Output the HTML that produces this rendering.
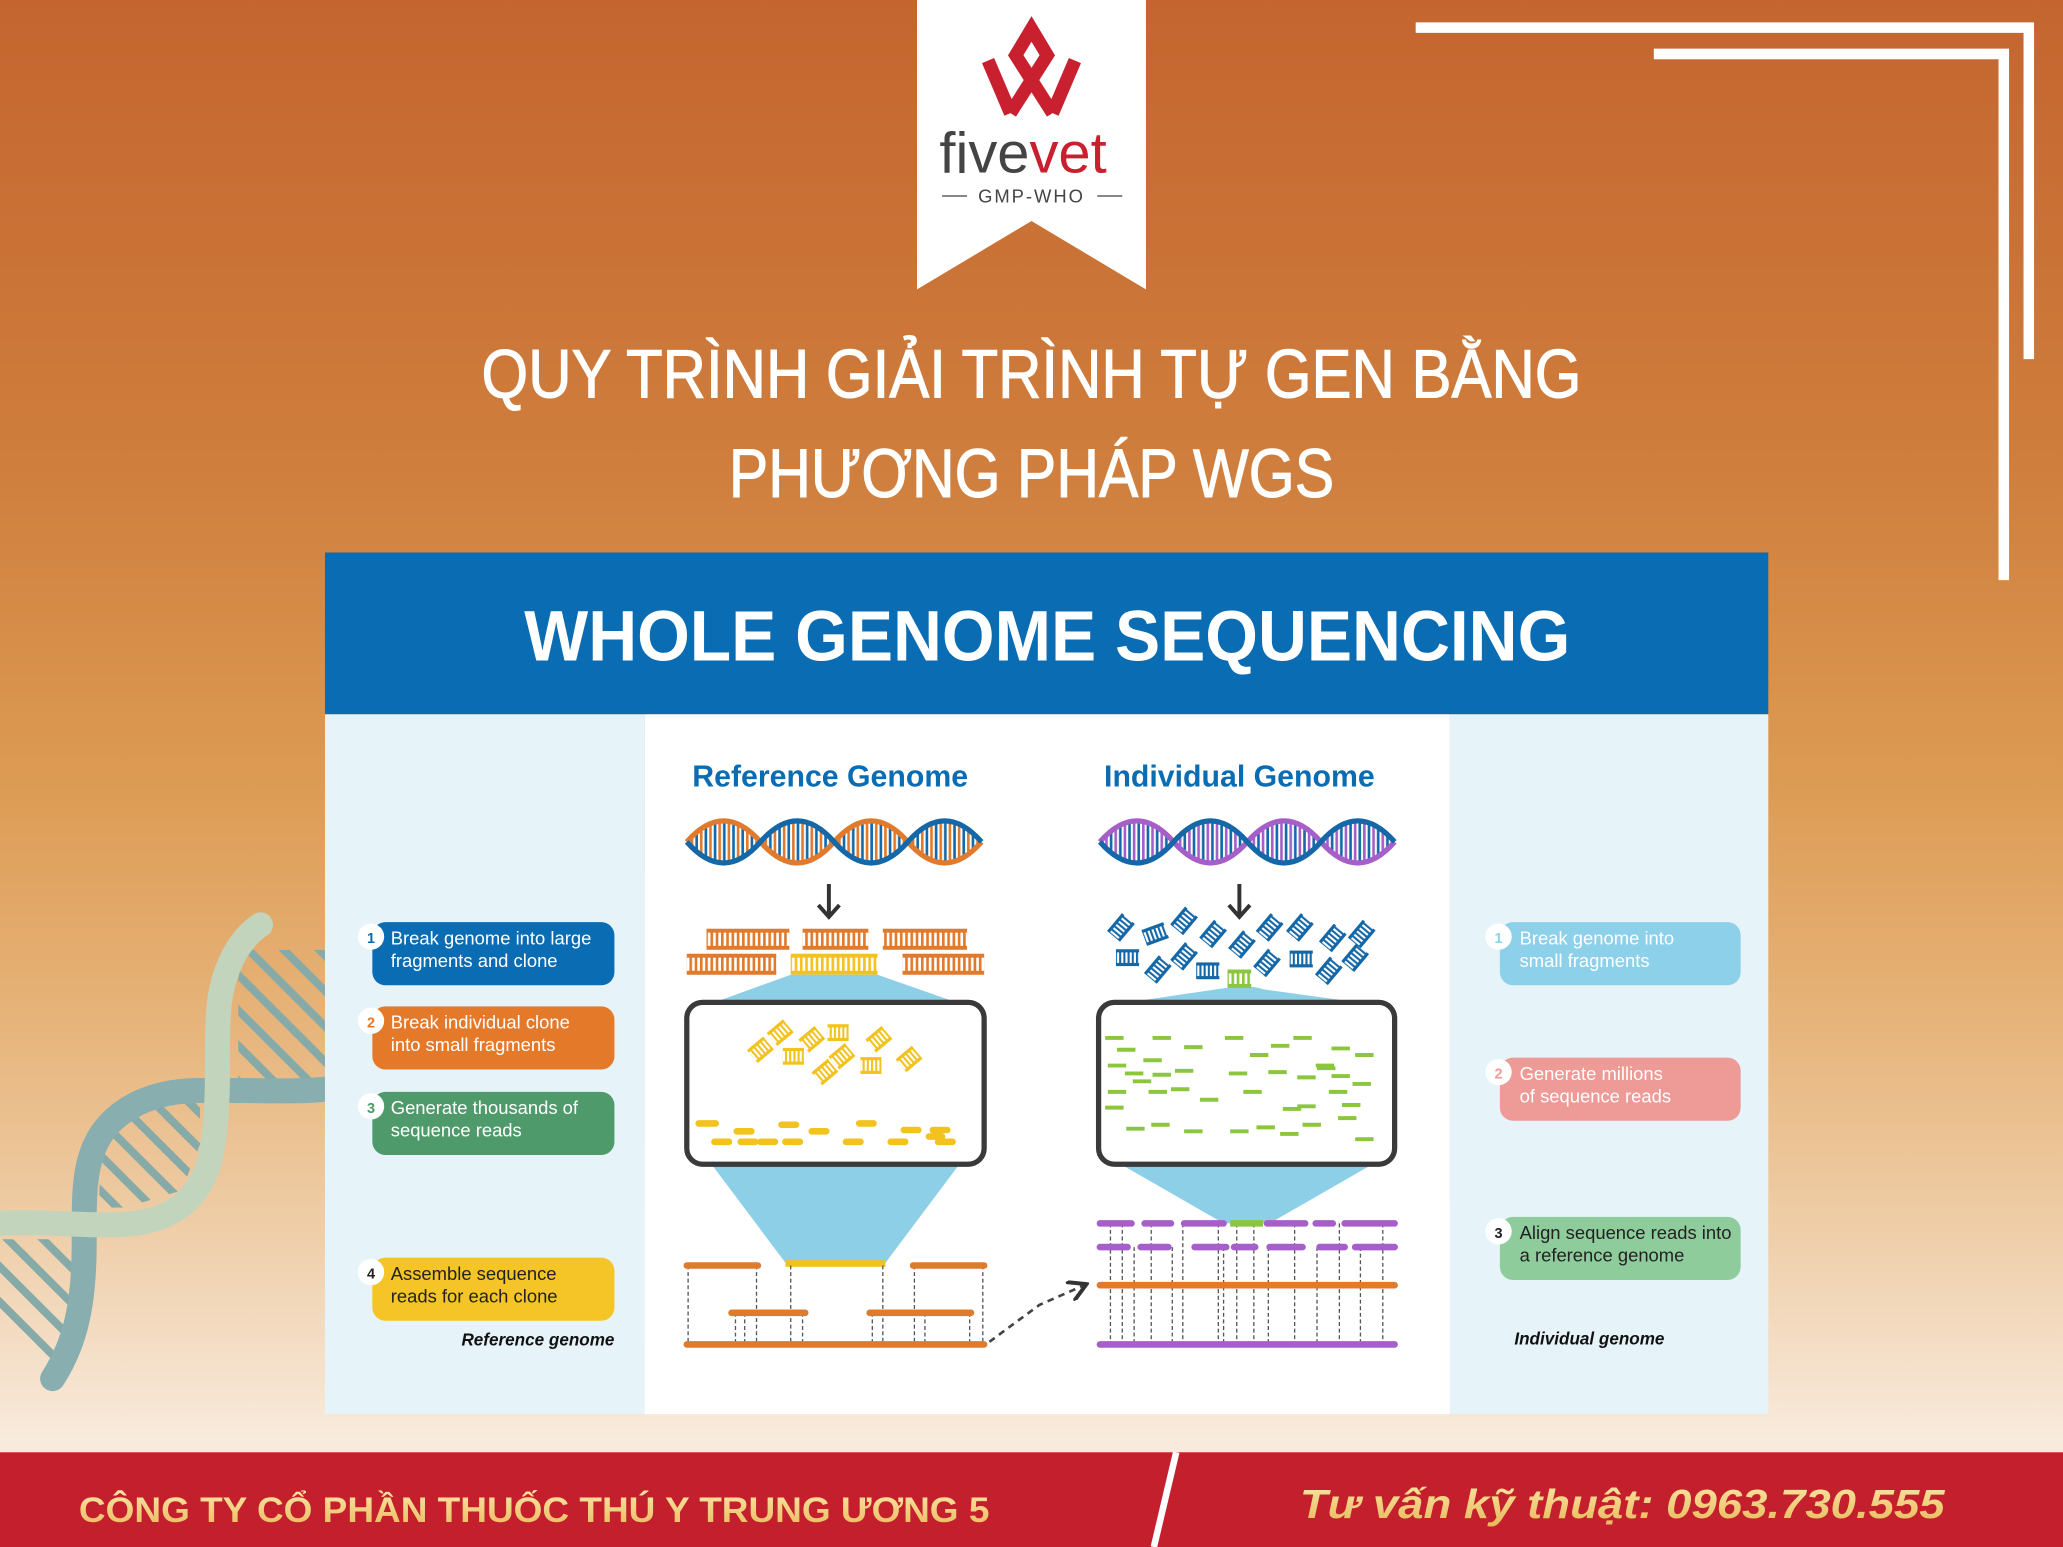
<!DOCTYPE html>
<html><head><meta charset="utf-8"><style>
html,body{margin:0;padding:0;background:#fff;}
svg{display:block;}
text{font-family:"Liberation Sans",sans-serif;}
</style></head><body>
<svg width="2063" height="1547" viewBox="0 0 1568 1176" preserveAspectRatio="none" xmlns="http://www.w3.org/2000/svg">
<defs>
<linearGradient id="bg" x1="0" y1="0" x2="0" y2="1">
<stop offset="0" stop-color="#c4652f"/><stop offset="0.3" stop-color="#cf7e3d"/><stop offset="0.5" stop-color="#dc9a52"/><stop offset="0.65" stop-color="#e6b277"/><stop offset="0.8" stop-color="#efcfaa"/><stop offset="0.93" stop-color="#f8eadc"/><stop offset="1" stop-color="#fbf2ea"/>
</linearGradient>
<linearGradient id="gold" x1="0" y1="0" x2="0" y2="1"><stop offset="0" stop-color="#fbe7a6"/><stop offset="1" stop-color="#e8b85a"/></linearGradient>
<pattern id="po" width="4" height="10" patternUnits="userSpaceOnUse"><rect width="2" height="10" fill="#e07a2d"/></pattern>
<pattern id="py" width="4" height="10" patternUnits="userSpaceOnUse"><rect width="2" height="10" fill="#f2c21f"/></pattern>
<pattern id="pb" width="4" height="10" patternUnits="userSpaceOnUse"><rect width="2" height="10" fill="#1568a8"/></pattern>
<pattern id="pg" width="4" height="10" patternUnits="userSpaceOnUse"><rect width="2" height="10" fill="#8cc63f"/></pattern>
<pattern id="diag" width="19" height="19" patternUnits="userSpaceOnUse" patternTransform="rotate(-45)"><rect width="6" height="19" fill="#86aaa8"/></pattern>
<pattern id="rungs1" width="7" height="60" patternUnits="userSpaceOnUse"><rect width="2" height="60" fill="#e07a2d"/><rect x="3.5" width="2" height="60" fill="#1568a8"/></pattern>
<pattern id="rungs2" width="7" height="60" patternUnits="userSpaceOnUse"><rect width="2" height="60" fill="#a65ec9"/><rect x="3.5" width="2" height="60" fill="#1568a8"/></pattern>
<g id="bf"><rect x="-11" y="-7" width="22" height="14" fill="url(#pb)"/><rect x="-11" y="-8" width="22" height="3" fill="#1568a8"/><rect x="-11" y="5" width="22" height="3" fill="#1568a8"/></g>
<g id="yf"><rect x="-10" y="-7" width="20" height="14" fill="url(#py)"/><rect x="-10" y="-8" width="20" height="3" fill="#f2c21f"/><rect x="-10" y="5" width="20" height="3" fill="#f2c21f"/></g>
<clipPath id="c1"><path d="M522 640 q28 -32 56 0 t56 0 t56 0 t56 0 L746 640 q-28 -32 -56 0 t-56 0 t-56 0 t-56 0 Z"/></clipPath>
<clipPath id="c2"><path d="M836 640 q28 -32 56 0 t56 0 t56 0 t56 0 L1060 640 q-28 -32 -56 0 t-56 0 t-56 0 t-56 0 Z"/></clipPath>
<clipPath id="s1"><path d="M185 722 L247 722 L247 830 L181 830 L181 745 Z"/></clipPath>
<clipPath id="s2"><path d="M78 850 L110 832 L152 828 L152 870 L138 905 L95 918 L75 918 Z"/></clipPath>
<clipPath id="s3"><path d="M0 942 L58 942 L58 1000 L42 1042 L0 1010 Z"/></clipPath>
<marker id="ah" markerWidth="8" markerHeight="8" refX="6" refY="4" orient="auto"><path d="M0 0 L7 4 L0 8" fill="none" stroke="#333" stroke-width="1.5"/></marker>
</defs>

<rect width="1568" height="1176" fill="url(#bg)"/>

<!-- decorative DNA left -->
<rect x="170" y="700" width="80" height="140" fill="url(#diag)" clip-path="url(#s1)"/>
<rect x="70" y="820" width="90" height="110" fill="url(#diag)" clip-path="url(#s2)"/>
<rect x="0" y="935" width="70" height="120" fill="url(#diag)" clip-path="url(#s3)"/>
<path d="M40 1048 C 58 1020, 64 990, 64 944 C 64 905, 62 870, 90 848 C 110 832, 135 829, 152 829 L181 829 C 205 829, 230 830, 247 828" fill="none" stroke="#88aeb0" stroke-width="19" stroke-linecap="round"/>
<path d="M0 930 C 30 928, 60 932, 90 931 C 120 930, 150 920, 160 880 C 168 840, 164 800, 166 770 C 168 740, 180 715, 198 703" fill="none" stroke="#c3d4bd" stroke-width="19" stroke-linecap="round"/>

<!-- frame lines -->
<path d="M1076 21 H1542 V273" fill="none" stroke="#fff" stroke-width="8"/>
<path d="M1257 41 H1523 V441" fill="none" stroke="#fff" stroke-width="8"/>

<!-- logo banner -->
<path d="M697 0 H871 V220 L784 168 L697 220 Z" fill="#fff"/>
<g fill="none" stroke="#c8202e" stroke-width="10" stroke-linejoin="miter" stroke-miterlimit="10">
<path d="M751 46 L768 86"/>
<path d="M817 46 L800 86"/>
<path d="M768 86 L796 42 L784 22 L772 42 L800 86"/>
</g>
<text x="714" y="131" font-family="Liberation Serif,serif" font-size="44" fill="#444">five<tspan fill="#c8202e">vet</tspan></text>
<line x1="716" y1="149" x2="735" y2="149" stroke="#888" stroke-width="1.5"/>
<line x1="834" y1="149" x2="853" y2="149" stroke="#888" stroke-width="1.5"/>
<text x="784" y="154" text-anchor="middle" font-family="Liberation Serif,serif" font-size="14" letter-spacing="1.5" fill="#444">GMP-WHO</text>

<!-- title -->
<text x="784" y="302" text-anchor="middle" font-size="52" fill="#fff" stroke="#fff" stroke-width="0.8" textLength="836" lengthAdjust="spacingAndGlyphs">QUY TRÌNH GIẢI TRÌNH TỰ GEN BẰNG</text>
<text x="784" y="378" text-anchor="middle" font-size="52" fill="#fff" stroke="#fff" stroke-width="0.8" textLength="460" lengthAdjust="spacingAndGlyphs">PHƯƠNG PHÁP WGS</text>

<!-- panel -->
<rect x="247" y="420" width="1097" height="123" fill="#0a6cb2"/>
<text x="796" y="502" text-anchor="middle" font-size="54" font-weight="bold" fill="#fff" textLength="795" lengthAdjust="spacingAndGlyphs">WHOLE GENOME SEQUENCING</text>
<rect x="247" y="543" width="243" height="532" fill="#e6f4f9"/>
<rect x="490" y="543" width="612" height="532" fill="#fff"/>
<rect x="1102" y="543" width="242" height="532" fill="#e6f4f9"/>

<!-- left boxes -->
<g font-size="14">
<rect x="283" y="701" width="184" height="48" rx="10" fill="#0a6cb2"/>
<circle cx="282" cy="712" r="10" fill="#fff"/><text x="282" y="717" text-anchor="middle" font-size="11" font-weight="bold" fill="#0a6cb2">1</text>
<text x="297" y="718" fill="#fff">Break genome into large</text><text x="297" y="735" fill="#fff">fragments and clone</text>
<rect x="283" y="765" width="184" height="48" rx="10" fill="#e5792a"/>
<circle cx="282" cy="776" r="10" fill="#fff"/><text x="282" y="781" text-anchor="middle" font-size="11" font-weight="bold" fill="#e5792a">2</text>
<text x="297" y="782" fill="#fff">Break individual clone</text><text x="297" y="799" fill="#fff">into small fragments</text>
<rect x="283" y="830" width="184" height="48" rx="10" fill="#4f9a6a"/>
<circle cx="282" cy="841" r="10" fill="#fff"/><text x="282" y="846" text-anchor="middle" font-size="11" font-weight="bold" fill="#4f9a6a">3</text>
<text x="297" y="847" fill="#fff">Generate thousands of</text><text x="297" y="864" fill="#fff">sequence reads</text>
<rect x="283" y="956" width="184" height="48" rx="10" fill="#f5c426"/>
<circle cx="282" cy="967" r="10" fill="#fff"/><text x="282" y="972" text-anchor="middle" font-size="11" font-weight="bold" fill="#222">4</text>
<text x="297" y="973" fill="#222">Assemble sequence</text><text x="297" y="990" fill="#222">reads for each clone</text>
<text x="467" y="1023" text-anchor="end" font-size="13" font-weight="bold" font-style="italic" fill="#111">Reference genome</text>
</g>

<!-- right boxes -->
<g font-size="14">
<rect x="1140" y="701" width="183" height="48" rx="10" fill="#8dd0ea"/>
<circle cx="1139" cy="712" r="10" fill="#fff"/><text x="1139" y="717" text-anchor="middle" font-size="11" font-weight="bold" fill="#8dd0ea">1</text>
<text x="1155" y="718" fill="#fff">Break genome into</text><text x="1155" y="735" fill="#fff">small fragments</text>
<rect x="1140" y="804" width="183" height="48" rx="10" fill="#ee9a96"/>
<circle cx="1139" cy="815" r="10" fill="#fff"/><text x="1139" y="820" text-anchor="middle" font-size="11" font-weight="bold" fill="#ee9a96">2</text>
<text x="1155" y="821" fill="#fff">Generate millions</text><text x="1155" y="838" fill="#fff">of sequence reads</text>
<rect x="1140" y="925" width="183" height="48" rx="10" fill="#8fcc9c"/>
<circle cx="1139" cy="936" r="10" fill="#fff"/><text x="1139" y="941" text-anchor="middle" font-size="11" font-weight="bold" fill="#222">3</text>
<text x="1155" y="942" fill="#222">Align sequence reads into</text><text x="1155" y="959" fill="#222">a reference genome</text>
<text x="1151" y="1022" font-size="13" font-weight="bold" font-style="italic" fill="#111">Individual genome</text>
</g>

<!-- center headings -->
<text x="631" y="598" text-anchor="middle" font-size="23" font-weight="bold" fill="#0a6cb2">Reference Genome</text>
<text x="942" y="598" text-anchor="middle" font-size="23" font-weight="bold" fill="#0a6cb2">Individual Genome</text>

<!-- DNA ref -->
<rect x="522" y="610" width="224" height="60" fill="url(#rungs1)" clip-path="url(#c1)"/>
<path d="M522 640 q28 -32 56 0 t56 0 t56 0 t56 0" fill="none" stroke="#e07a2d" stroke-width="4"/>
<path d="M522 640 q28 32 56 0 t56 0 t56 0 t56 0" fill="none" stroke="#1568a8" stroke-width="4"/>
<!-- DNA ind -->
<rect x="836" y="610" width="224" height="60" fill="url(#rungs2)" clip-path="url(#c2)"/>
<path d="M836 640 q28 -32 56 0 t56 0 t56 0 t56 0" fill="none" stroke="#a65ec9" stroke-width="4"/>
<path d="M836 640 q28 32 56 0 t56 0 t56 0 t56 0" fill="none" stroke="#1568a8" stroke-width="4"/>

<!-- arrows -->
<g stroke="#333" stroke-width="3" fill="none">
<path d="M630 672 V696 M622 688 L630 697 L638 688"/>
<path d="M942 672 V696 M934 688 L942 697 L950 688"/>
<path d="M630 806 V848 M622 840 L630 849 L638 840"/>
</g>

<!-- ref fragments -->
<rect x="537" y="708" width="63" height="12" fill="url(#po)"/><rect x="537" y="706" width="63" height="3" fill="#e07a2d"/><rect x="537" y="719" width="63" height="3" fill="#e07a2d"/>
<rect x="610" y="708" width="50" height="12" fill="url(#po)"/><rect x="610" y="706" width="50" height="3" fill="#e07a2d"/><rect x="610" y="719" width="50" height="3" fill="#e07a2d"/>
<rect x="671" y="708" width="64" height="12" fill="url(#po)"/><rect x="671" y="706" width="64" height="3" fill="#e07a2d"/><rect x="671" y="719" width="64" height="3" fill="#e07a2d"/>
<rect x="522" y="727" width="68" height="12" fill="url(#po)"/><rect x="522" y="725" width="68" height="3" fill="#e07a2d"/><rect x="522" y="738" width="68" height="3" fill="#e07a2d"/>
<rect x="601" y="727" width="66" height="12" fill="url(#py)"/><rect x="601" y="725" width="66" height="3" fill="#f2c21f"/><rect x="601" y="738" width="66" height="3" fill="#f2c21f"/>
<rect x="686" y="727" width="62" height="12" fill="url(#po)"/><rect x="686" y="725" width="62" height="3" fill="#e07a2d"/><rect x="686" y="738" width="62" height="3" fill="#e07a2d"/>

<!-- funnels -->
<path d="M601 741 H667 L730 763 H540 Z" fill="#8ecfe8"/>
<path d="M540 884 H730 L673 960 H597 Z" fill="#8ecfe8"/>
<rect x="597" y="958" width="76" height="5" fill="#f2c21f"/>
<path d="M925 752 Q950 748 960 752 L1040 763 H850 Z" fill="#8ecfe8"/>
<path d="M850 884 H1045 L965 930 H930 Z" fill="#8ecfe8"/>

<!-- boxes -->
<rect x="522" y="762" width="226" height="123" rx="12" fill="#fff" stroke="#3a3a3a" stroke-width="4"/>
<rect x="835" y="762" width="225" height="123" rx="12" fill="#fff" stroke="#3a3a3a" stroke-width="4"/>

<!-- yellow fragments in box -->
<use href="#yf" transform="translate(578,798) rotate(-40) scale(0.8)"/>
<use href="#yf" transform="translate(593,785) rotate(-40) scale(0.8)"/>
<use href="#yf" transform="translate(603,803) scale(0.8)"/>
<use href="#yf" transform="translate(617,790) rotate(-40) scale(0.8)"/>
<use href="#yf" transform="translate(627,815) rotate(-40) scale(0.8)"/>
<use href="#yf" transform="translate(637,785) scale(0.8)"/>
<use href="#yf" transform="translate(640,803) rotate(-40) scale(0.8)"/>
<use href="#yf" transform="translate(668,790) rotate(-40) scale(0.8)"/>
<use href="#yf" transform="translate(662,810) scale(0.8)"/>
<use href="#yf" transform="translate(691,805) rotate(-40) scale(0.8)"/>
<g stroke="#f2c21f" stroke-width="5" stroke-linecap="round">
<path d="M531 854h13M560 860h11M578 868h11M594 855h11M617 860h11M653 854h11M687 859h11M709 859h11M543 868h11M563 868h11M597 868h11M643 868h11M677 868h11M713 868h11M706 864h10"/>
</g>

<!-- blue fragments -->
<use href="#bf" transform="translate(852,705) rotate(-50) scale(0.8)"/>
<use href="#bf" transform="translate(878,710) rotate(-20) scale(0.8)"/>
<use href="#bf" transform="translate(900,700) rotate(-50) scale(0.8)"/>
<use href="#bf" transform="translate(922,710) rotate(-50) scale(0.8)"/>
<use href="#bf" transform="translate(944,718) rotate(-50) scale(0.8)"/>
<use href="#bf" transform="translate(965,705) rotate(-50) scale(0.8)"/>
<use href="#bf" transform="translate(988,705) rotate(-50) scale(0.8)"/>
<use href="#bf" transform="translate(1013,713) rotate(-50) scale(0.8)"/>
<use href="#bf" transform="translate(1035,710) rotate(-50) scale(0.8)"/>
<use href="#bf" transform="translate(857,728) scale(0.8)"/>
<use href="#bf" transform="translate(880,737) rotate(-50) scale(0.8)"/>
<use href="#bf" transform="translate(900,727) rotate(-50) scale(0.8)"/>
<use href="#bf" transform="translate(918,738) scale(0.8)"/>
<use href="#bf" transform="translate(963,732) rotate(-50) scale(0.8)"/>
<use href="#bf" transform="translate(989,729) scale(0.8)"/>
<use href="#bf" transform="translate(1010,738) rotate(-50) scale(0.8)"/>
<use href="#bf" transform="translate(1030,728) rotate(-50) scale(0.8)"/>
<rect x="933" y="738" width="18" height="12" fill="url(#pg)"/><rect x="933" y="737" width="18" height="3" fill="#8cc63f"/><rect x="933" y="748" width="18" height="3" fill="#8cc63f"/>

<!-- green reads -->
<g stroke="#8cc63f" stroke-width="3">
<path d="M840 789h14M849 798h14M869 806h14M876 789h14M842 810h14M855 816h14M876 817h14M893 814h14M900 796h14M931 789h14M934 816h14M950 802h14M966 795h14M964 815h14M983 789h14M1001 812h14M986 819h14M1012 797h14M1012 818h14M1028 824h14M1030 802h14M842 830h14M861 822h14M873 830h14M890 828h14M840 842h14M912 836h14M1020 840h14M945 830h14M975 843h14M986 841h14M1010 830h14M856 858h14M875 855h14M900 860h14M935 860h14M955 857h14M973 862h14M990 855h14M1017 850h14M1030 866h14M1000 810h14"/>
</g>

<!-- ref assembly -->
<g stroke="#555" stroke-width="1" stroke-dasharray="3 2">
<path d="M523 962V1022M575 962V1022M559 998V1022M610 998V1022M601 962V1022M671 962V1022M663 998V1022M695 962V1022M737 998V1022M747 962V1022M566 998V1022M703 998V1022"/>
</g>
<g stroke="#e07a2d" stroke-width="5" stroke-linecap="round">
<path d="M522 962H576M694 962H748M556 998H612M661 998H738M522 1022H748"/>
</g>
<path d="M752 1020 L790 992 L824 977" fill="none" stroke="#444" stroke-width="2" stroke-dasharray="5 4" marker-end="url(#ah)"/>

<!-- individual alignment -->
<g stroke="#555" stroke-width="1" stroke-dasharray="3 2">
<path d="M844 930V1022M853 930V1022M862 948V1022M875 930V1022M891 948V1022M899 930V1022M926 930V1022M930 948V1022M940 930V1022M953 930V1022M964 948V1022M984 930V1022M1001 948V1022M1018 930V1022M1034 948V1022M1051 930V1022"/>
</g>
<g stroke="#a65ec9" stroke-width="5" stroke-linecap="round">
<path d="M836 930H860M870 930H890M900 930H930M963 930H992M1000 930H1013M1022 930H1060M836 948H857M867 948H888M908 948H932M938 948H954M965 948H990M1003 948H1022M1030 948H1060M836 1022H1060"/>
</g>
<path d="M935 930H960" stroke="#8cc63f" stroke-width="5"/>
<path d="M836 977H1060" stroke="#e07a2d" stroke-width="5" stroke-linecap="round"/>

<!-- bottom bar -->
<rect x="0" y="1104" width="1568" height="72" fill="#c41f2c"/>
<path d="M894 1104 L877 1176" stroke="#fff" stroke-width="5"/>
<text x="60" y="1157" font-size="27" font-weight="bold" fill="url(#gold)" textLength="692" lengthAdjust="spacingAndGlyphs">CÔNG TY CỔ PHẦN THUỐC THÚ Y TRUNG ƯƠNG 5</text>
<text x="988" y="1154" font-size="31" font-weight="bold" font-style="italic" fill="url(#gold)" textLength="490" lengthAdjust="spacingAndGlyphs">Tư vấn kỹ thuật: 0963.730.555</text>
</svg>
</body></html>
